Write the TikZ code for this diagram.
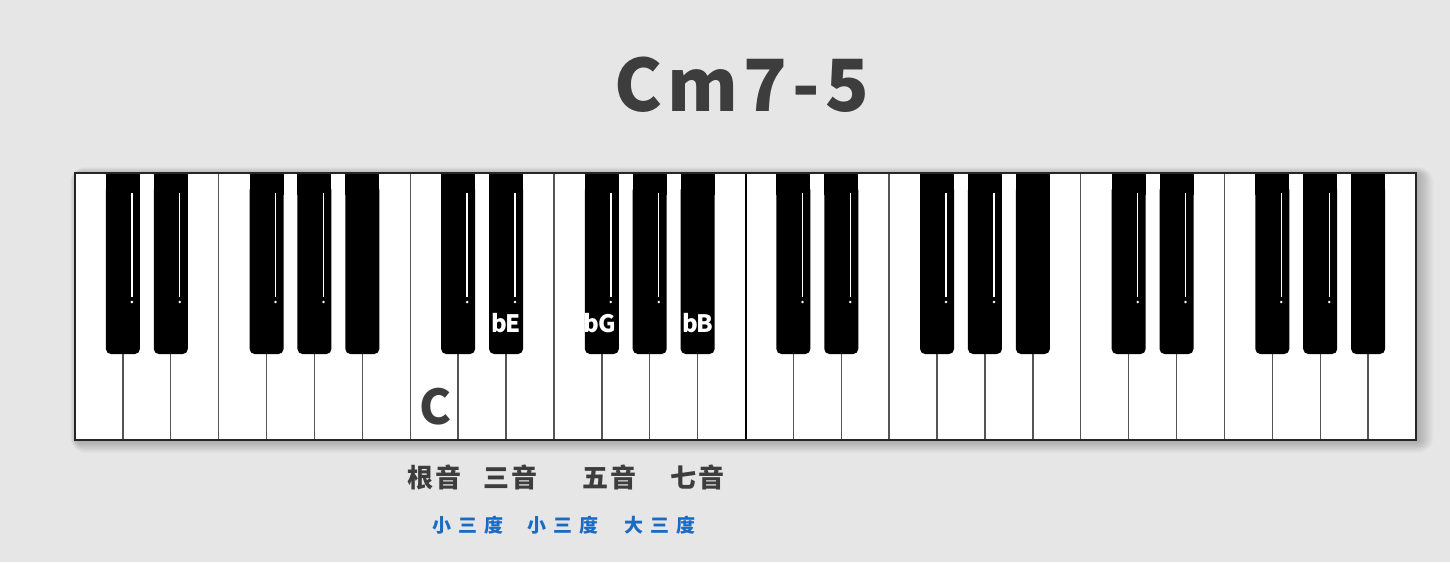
\documentclass[tikz,border=0pt]{standalone}
\usepackage{fontspec}
\newfontfamily\cjk{Noto Sans CJK SC}
\definecolor{bgc}{HTML}{E6E6E6}
\definecolor{txt}{HTML}{3D3D3D}
\definecolor{blu}{HTML}{1B6BC2}
\definecolor{keyline}{HTML}{555555}
\tikzset{
  titletext/.style={inner sep=0pt,text=txt,font=\cjk\bfseries\fontsize{72}{76}\selectfont},
  keytext/.style={inner sep=0pt,text=white,font=\cjk\bfseries\fontsize{24}{26}\selectfont},
  roottext/.style={inner sep=0pt,text=txt,font=\cjk\bfseries\fontsize{48}{50}\selectfont},
  notetext/.style={inner sep=0pt,text=txt,font=\cjk\bfseries\fontsize{26}{28}\selectfont},
  intervaltext/.style={inner sep=0pt,text=blu,font=\cjk\bfseries\fontsize{19}{21}\selectfont},
  blackkey/.style={fill=black},
  whitesep/.style={draw=keyline,line width=1.4pt},
  shine/.style={draw=white,line width=1.4pt},
}
\begin{document}
\begin{tikzpicture}[x=1pt,y=-1pt]
\useasboundingbox (0,0) rectangle (1450,562);
\fill[bgc] (0,0) rectangle (1450,562);
% soft shadow
\foreach \s in {1,...,16}
  \fill[black,opacity=0.016,rounded corners=\s pt] (75-\s*0.5+3,173-\s*0.5+2) rectangle (1416+\s*1.1,440+\s*0.8);
% white keys
\fill[white] (75,173) rectangle (1416,440);
\pgfmathsetmacro{\w}{1341/28}
% separators
\foreach \i in {1,...,27}{
  \pgfmathtruncatemacro{\m}{mod(\i,7)}
  \pgfmathsetmacro{\bx}{75+\i*\w}
  \ifnum\m=0
    \ifnum\i=14
      \draw[black,line width=2pt] (\bx,173) -- (\bx,440);
    \else
      \draw[whitesep] (\bx,173) -- (\bx,440);
    \fi
  \else\ifnum\m=3
    \draw[whitesep] (\bx,173) -- (\bx,440);
  \else
    \draw[whitesep] (\bx,350) -- (\bx,440);
  \fi\fi
}
% black keys
\foreach \i in {1,...,27}{
  \pgfmathtruncatemacro{\m}{mod(\i,7)}
  \pgfmathsetmacro{\bx}{75+\i*\w}
  \ifnum\m=0\else\ifnum\m=3\else
    \fill[blackkey,rounded corners=5pt] (\bx-17,185) rectangle (\bx+17,354);
    \fill[blackkey] (\bx-17,173) rectangle (\bx+17,195);
    \ifnum\m=6\else
      \draw[shine] (\bx+9,193) -- (\bx+9,297);
      \fill[white] (\bx+9,302) circle (1.4);
    \fi
  \fi\fi
}
% frame
\draw[black!85,line width=2pt] (75,173) rectangle (1416,440);
% labels on keys
\node[roottext,anchor=base] (c) at (436,424) {C};
\node[keytext,anchor=base] (be) at ({75+9*\w},332) {b\hspace{-1.5pt}E};
\node[keytext,anchor=base] (bg) at ({75+11*\w-2},332) {b\hspace{-1.5pt}G};
\node[keytext,anchor=base] (bb) at ({75+13*\w},332) {b\hspace{-1.5pt}B};
% title
\node[titletext,anchor=base] (title) at (742,111) {C\hspace{5pt}m\hspace{5pt}7\hspace{5pt}-\hspace{5pt}5};
% notes
\node[notetext] (n1) at (434.5,477) {根\hspace{3pt}音};
\node[notetext] (n3) at (510.5,477) {三\hspace{3pt}音};
\node[notetext] (n5) at (609.5,477) {五\hspace{3pt}音};
\node[notetext] (n7) at (697.5,477) {七\hspace{3pt}音};
% intervals
\node[intervaltext] (i1) at (468,525.5) {小\hspace{7pt}三\hspace{7pt}度};
\node[intervaltext] (i2) at (563,525.5) {小\hspace{7pt}三\hspace{7pt}度};
\node[intervaltext] (i3) at (660,525.5) {大\hspace{7pt}三\hspace{7pt}度};
\end{tikzpicture}
\end{document}
